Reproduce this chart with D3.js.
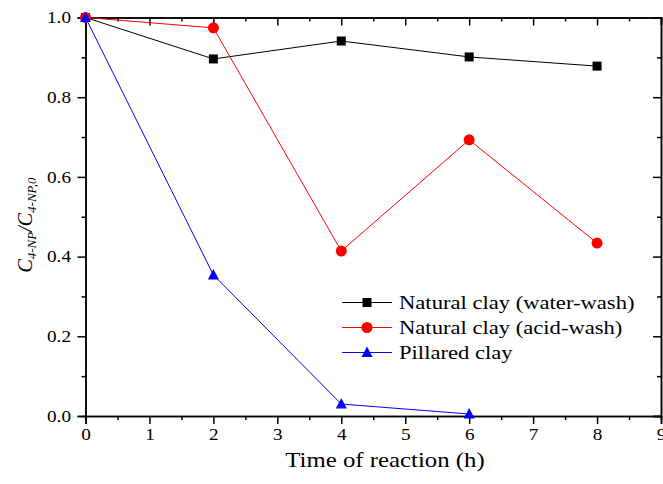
<!DOCTYPE html>
<html>
<head>
<meta charset="utf-8">
<script src="https://cdn.jsdelivr.net/npm/d3@7"></script>
<style>
  body { margin: 0; background: #fff; }
  text { font-family: "Liberation Serif", "Times New Roman", serif; }
</style>
</head>
<body>
<svg width="663" height="484"></svg>
<script>
// data
var times = [0, 2, 4, 6, 8];
var waterWash = [1.0, 0.896, 0.941, 0.901, 0.878];
var acidWash = [1.0, 0.974, 0.414, 0.693, 0.434];
var pillaredTimes = [0, 2, 4, 6];
var pillared = [1.0, 0.354, 0.030, 0.005];
var seriesNames = ["Natural clay (water-wash)", "Natural clay (acid-wash)", "Pillared clay"];
var xTicks = [0, 1, 2, 3, 4, 5, 6, 7, 8, 9];
var yTicks = [0.0, 0.2, 0.4, 0.6, 0.8, 1.0];

var svg = d3.select("svg");
var plotLeft = 85.5, plotRight = 661, plotTop = 17.5, plotBottom = 416;
var stretch = 1.2; // glyphs in the original look a little wide

var x = d3.scaleLinear().domain([0, 9]).range([plotLeft, plotRight]);
var y = d3.scaleLinear().domain([0, 1]).range([plotBottom, plotTop]);

var series = [
  { name: seriesNames[0], xs: times, ys: waterWash, color: "#000", shape: "square" },
  { name: seriesNames[1], xs: times, ys: acidWash, color: "#ff0000", shape: "circle" },
  { name: seriesNames[2], xs: pillaredTimes, ys: pillared, color: "#0000ff", shape: "triangle" }
];

var minorX = d3.range(0.5, 9, 1);
var minorY = d3.range(0.1, 1, 0.2);

function styleAxis(g) {
  g.select(".domain").attr("stroke", "#000").attr("stroke-width", 1.5);
  g.selectAll(".tick line").attr("stroke", "#000").attr("stroke-width", 1.5);
  g.selectAll("text").attr("font-size", 16).attr("fill", "#000");
}

// bottom axis
svg.append("g").attr("transform", "translate(0," + plotBottom + ")")
  .call(d3.axisBottom(x).tickValues(xTicks).tickFormat(d3.format("d")).tickSizeOuter(0).tickSize(8).tickPadding(5))
  .call(styleAxis)
  .call(function (g) { g.selectAll("text").attr("transform", "scale(" + stretch + ",1)"); });
svg.append("g").attr("transform", "translate(0," + plotBottom + ")")
  .call(d3.axisBottom(x).tickValues(minorX).tickFormat("").tickSizeOuter(0).tickSize(4))
  .call(styleAxis);

// left axis
svg.append("g").attr("transform", "translate(" + plotLeft + ",0)")
  .call(d3.axisLeft(y).tickValues(yTicks).tickFormat(d3.format(".1f")).tickSizeOuter(0).tickSize(8))
  .call(styleAxis)
  .call(function (g) {
    g.selectAll("text").attr("x", -14.5 / stretch).attr("transform", "scale(" + stretch + ",1)");
  });
svg.append("g").attr("transform", "translate(" + plotLeft + ",0)")
  .call(d3.axisLeft(y).tickValues(minorY).tickFormat("").tickSizeOuter(0).tickSize(4))
  .call(styleAxis);

// top and right frame, ticks pointing inward
svg.append("g").attr("transform", "translate(0," + plotTop + ")")
  .call(d3.axisBottom(x).tickValues(xTicks).tickFormat("").tickSizeOuter(0).tickSize(8))
  .call(styleAxis);
svg.append("g").attr("transform", "translate(0," + plotTop + ")")
  .call(d3.axisBottom(x).tickValues(minorX).tickFormat("").tickSizeOuter(0).tickSize(4))
  .call(styleAxis);
svg.append("g").attr("transform", "translate(" + plotRight + ",0)")
  .call(d3.axisLeft(y).tickValues(yTicks).tickFormat("").tickSizeOuter(0).tickSize(8))
  .call(styleAxis);
svg.append("g").attr("transform", "translate(" + plotRight + ",0)")
  .call(d3.axisLeft(y).tickValues(minorY).tickFormat("").tickSizeOuter(0).tickSize(4))
  .call(styleAxis);

// lines and markers
var line = d3.line().x(function (d) { return x(d[0]); }).y(function (d) { return y(d[1]); });

function marker(g, shape, color) {
  if (shape === "square") {
    g.append("rect").attr("x", -4.5).attr("y", -4.5).attr("width", 9).attr("height", 9).attr("fill", color);
  } else if (shape === "circle") {
    g.append("circle").attr("r", 5.5).attr("fill", color);
  } else {
    g.append("path").attr("d", "M0,-6L5.5,4.5L-5.5,4.5Z").attr("fill", color);
  }
}

series.forEach(function (s) {
  var pts = s.xs.map(function (t, i) { return [t, s.ys[i]]; });
  svg.append("path").datum(pts)
    .attr("d", line).attr("fill", "none").attr("stroke", s.color).attr("stroke-width", 1);
});
series.forEach(function (s) {
  s.xs.forEach(function (t, i) {
    var g = svg.append("g").attr("transform", "translate(" + x(t) + "," + y(s.ys[i]) + ")");
    marker(g, s.shape, s.color);
  });
});

// legend
var legend = svg.append("g");
series.forEach(function (s, i) {
  var ly = 302.5 + i * 25;
  legend.append("line").attr("x1", 342).attr("x2", 392).attr("y1", ly).attr("y2", ly)
    .attr("stroke", s.color).attr("stroke-width", 1);
  var g = legend.append("g").attr("transform", "translate(367," + ly + ")");
  marker(g, s.shape, s.color);
  legend.append("text").attr("transform", "translate(399," + (ly + 6.5) + ") scale(1.19,1)")
    .attr("font-size", 19).text(s.name);
});

// axis titles
svg.append("text").attr("transform", "translate(385,467) scale(1.24,1)").attr("text-anchor", "middle")
  .attr("font-size", 20).text("Time of reaction (h)");

var yt = svg.append("text").attr("transform", "translate(32,225) rotate(-90)")
  .attr("text-anchor", "middle").attr("font-size", 20).attr("font-style", "italic");
yt.append("tspan").text("C");
yt.append("tspan").attr("font-size", 13).attr("dy", 4).text("4-NP");
yt.append("tspan").attr("dy", -4).text("/C");
yt.append("tspan").attr("font-size", 13).attr("dy", 4).text("4-NP,0");
</script>
</body>
</html>
